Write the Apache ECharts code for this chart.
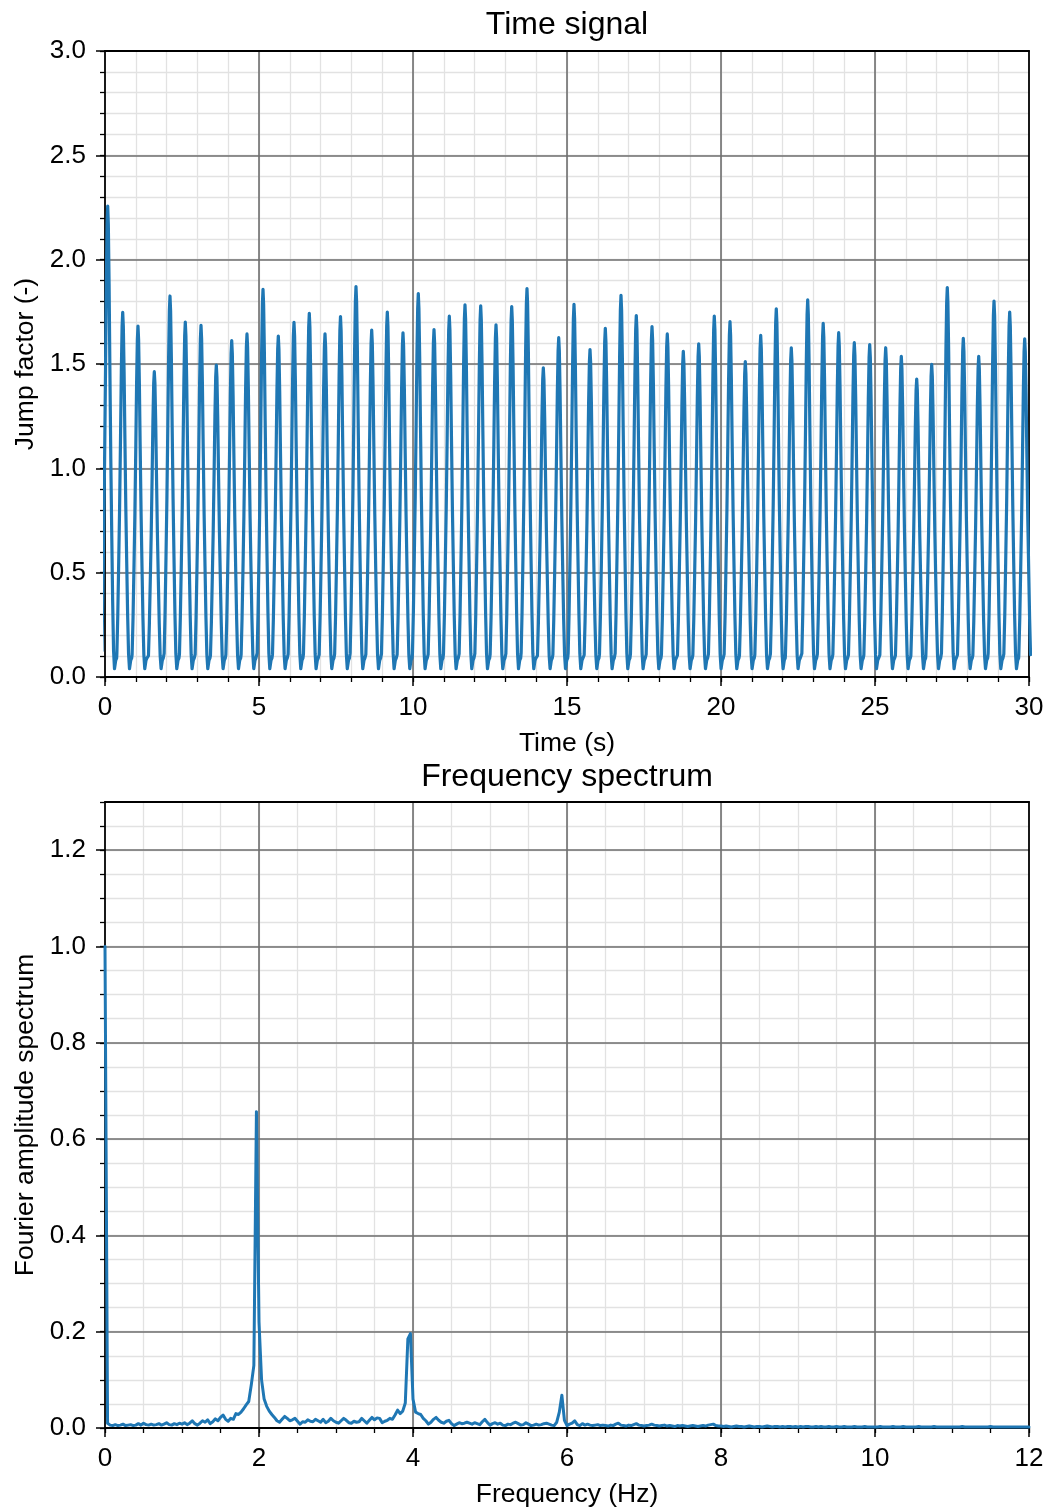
<!DOCTYPE html>
<html>
<head>
<meta charset="utf-8">
<script src="https://cdn.jsdelivr.net/npm/echarts@6/dist/echarts.min.js"></script>
<style>
  html, body { margin: 0; padding: 0; background: #fff; }
  #chart { width: 1048px; height: 1511px; }
</style>
</head>
<body>
<div id="chart"></div>
<script>
// ---- Time signal: one jump per ~0.5 s ----
const peakTimes = [
  0.088, 0.575, 1.071, 1.601, 2.110, 2.607, 3.117, 3.614, 4.114, 4.610,
  5.130, 5.627, 6.136, 6.633, 7.143, 7.646, 8.149, 8.659, 9.166, 9.675,
  10.172, 10.682, 11.179, 11.688, 12.198, 12.695, 13.205, 13.701, 14.231, 14.731,
  15.227, 15.747, 16.244, 16.753, 17.250, 17.760, 18.256, 18.776, 19.276, 19.782,
  20.292, 20.789, 21.289, 21.795, 22.282, 22.815, 23.318, 23.821, 24.328, 24.828,
  25.347, 25.854, 26.354, 26.841, 27.347, 27.867, 28.367, 28.864, 29.373, 29.860
];
const peakValues = [
  2.257, 1.748, 1.682, 1.463, 1.826, 1.701, 1.685, 1.495, 1.612, 1.644,
  1.858, 1.634, 1.700, 1.743, 1.645, 1.727, 1.871, 1.663, 1.749, 1.649,
  1.837, 1.665, 1.729, 1.784, 1.779, 1.688, 1.775, 1.861, 1.482, 1.626,
  1.786, 1.569, 1.671, 1.829, 1.732, 1.679, 1.644, 1.561, 1.597, 1.730,
  1.703, 1.511, 1.637, 1.764, 1.577, 1.807, 1.695, 1.650, 1.602, 1.593,
  1.578, 1.537, 1.428, 1.498, 1.866, 1.623, 1.537, 1.802, 1.749, 1.621
];
// shape of a single jump around its peak (s, fraction of height above base)
const pulseOffsets = [-0.19, -0.16, -0.13, -0.10, -0.07, -0.045, -0.02, 0, 0.02, 0.045, 0.07, 0.10, 0.13, 0.16, 0.19];
const pulseShape   = [0.03, 0.14, 0.29, 0.45, 0.65, 0.83, 0.96, 1, 0.96, 0.83, 0.65, 0.45, 0.29, 0.14, 0.03];
const pulseBase = 0.06;
// contact phase between two jumps (s after a peak, value)
const troughOffsets = [0.22, 0.26, 0.29];
const troughValues  = [0.04, 0.08, 0.09];

// ---- Fourier amplitude spectrum, df = 1/30 Hz ----
const spectrumStep = 1 / 30;
const spectrumAmp = [
  1.000,0.010,0.006,0.005,0.007,0.005,0.006,0.008,0.005,0.006, 0.007,0.005,0.006,0.009,0.006,0.010,0.007,0.006,0.008,0.006, 0.007,0.009,0.006,0.008,0.011,0.007,0.006,0.009,0.007,0.010,
  0.008,0.011,0.007,0.010,0.015,0.009,0.006,0.010,0.015,0.012, 0.017,0.009,0.013,0.019,0.015,0.022,0.027,0.018,0.014,0.020, 0.018,0.030,0.028,0.033,0.040,0.048,0.055,0.090,0.130,0.657,
  0.220,0.100,0.060,0.045,0.035,0.028,0.022,0.015,0.012,0.018, 0.024,0.020,0.015,0.017,0.020,0.014,0.008,0.013,0.012,0.017, 0.014,0.013,0.018,0.015,0.012,0.018,0.011,0.014,0.020,0.015,
  0.012,0.010,0.015,0.020,0.016,0.011,0.010,0.014,0.012,0.013, 0.020,0.015,0.010,0.016,0.022,0.017,0.021,0.020,0.011,0.014, 0.016,0.020,0.018,0.027,0.037,0.030,0.035,0.052,0.185,0.196,
  0.060,0.033,0.030,0.028,0.020,0.015,0.008,0.012,0.018,0.022, 0.016,0.012,0.010,0.014,0.016,0.009,0.005,0.008,0.011,0.009, 0.010,0.012,0.010,0.008,0.011,0.009,0.007,0.013,0.018,0.011,
  0.006,0.009,0.011,0.008,0.010,0.006,0.005,0.008,0.007,0.010, 0.012,0.009,0.006,0.007,0.011,0.008,0.005,0.006,0.008,0.006, 0.007,0.009,0.010,0.008,0.006,0.005,0.012,0.033,0.068,0.016,
  0.005,0.008,0.010,0.015,0.007,0.005,0.009,0.006,0.008,0.006, 0.005,0.006,0.007,0.005,0.006,0.005,0.004,0.006,0.005,0.008, 0.010,0.006,0.005,0.004,0.006,0.005,0.007,0.009,0.006,0.005,
  0.004,0.005,0.006,0.008,0.006,0.005,0.004,0.005,0.006,0.004, 0.005,0.004,0.003,0.005,0.004,0.005,0.004,0.003,0.004,0.005, 0.004,0.003,0.004,0.005,0.004,0.006,0.007,0.008,0.005,0.004,
  0.004,0.003,0.004,0.003,0.002,0.003,0.004,0.003,0.003,0.002, 0.003,0.004,0.003,0.002,0.003,0.003,0.002,0.003,0.004,0.003, 0.002,0.003,0.003,0.002,0.003,0.002,0.003,0.003,0.002,0.003,
  0.002,0.003,0.002,0.003,0.003,0.002,0.002,0.003,0.002,0.003, 0.002,0.002,0.003,0.002,0.002,0.003,0.002,0.002,0.003,0.002, 0.002,0.002,0.003,0.002,0.002,0.002,0.003,0.002,0.002,0.002,
  0.002,0.002,0.003,0.002,0.002,0.002,0.002,0.003,0.002,0.002, 0.002,0.003,0.002,0.002,0.002,0.002,0.002,0.003,0.002,0.002, 0.002,0.002,0.002,0.003,0.002,0.002,0.002,0.002,0.002,0.002,
  0.002,0.002,0.002,0.002,0.003,0.002,0.002,0.002,0.002,0.002, 0.002,0.002,0.002,0.002,0.002,0.003,0.002,0.002,0.002,0.002, 0.002,0.002,0.002,0.002,0.002,0.002,0.002,0.002,0.002,0.002,
  0.002
];

// ---- axis ranges / steps ----
const timeAxis = { min: 0, max: 30, major: 5, minor: 1 };
const jumpAxis = { min: 0, max: 3, major: 0.5, minor: 0.1 };
const freqAxis = { min: 0, max: 12, major: 2, minor: 0.5 };
const ampAxis  = { min: 0, max: 1.3, major: 0.2, minor: 0.05 };

// build the time series from the jump list
const timeData = [];
peakTimes.forEach((tp, i) => {
  const h = peakValues[i];
  pulseOffsets.forEach((dt, j) => timeData.push([tp + dt, pulseBase + (h - pulseBase) * pulseShape[j]]));
  if (i < peakTimes.length - 1) {
    troughOffsets.forEach((dt, j) => timeData.push([tp + dt, troughValues[j]]));
  }
});
const spectrumData = spectrumAmp.map((a, k) => [k * spectrumStep, a]);

const FONT = 'Liberation Sans';
const BLUE = '#1f77b4';
const MAJOR_GRID = '#6e6e6e';
const MINOR_GRID = '#e2e2e2';
const PLOT_CENTER_X = 567;

function minorAxis(gridIndex, r, pos) {
  return {
    type: 'value', gridIndex, position: pos, min: r.min, max: r.max, interval: r.minor, z: 1,
    axisLine: { show: false },
    axisTick: { show: true, length: 5, lineStyle: { color: '#000', width: 1.3 } },
    axisLabel: { show: false },
    splitLine: { show: true, showMinLine: false, showMaxLine: false, lineStyle: { color: MINOR_GRID, width: 1.3 } }
  };
}
function majorAxis(gridIndex, r, pos, name, fmt, isY) {
  const offGrid = Math.abs(Math.round(r.max / r.major) * r.major - r.max) > 1e-9;
  return {
    type: 'value', gridIndex, position: pos, min: r.min, max: r.max, interval: r.major, z: 2,
    name, nameLocation: 'middle', nameGap: isY ? 66 : 53,
    nameTextStyle: { fontFamily: FONT, fontSize: 26.5, color: '#000' },
    axisLine: { show: true, lineStyle: { color: '#000', width: 1.8 } },
    axisTick: { show: true, length: 9, lineStyle: { color: '#000', width: 1.5 } },
    axisLabel: { show: true, margin: isY ? 19 : 18, fontFamily: FONT, fontSize: 26, color: '#000',
                 formatter: fmt, showMaxLabel: !offGrid },
    splitLine: { show: true, showMinLine: false, showMaxLine: false, lineStyle: { color: MAJOR_GRID, width: 1.6 } }
  };
}
function spineAxis(gridIndex, r, pos) {
  return {
    type: 'value', gridIndex, position: pos, min: r.min, max: r.max, z: 3,
    axisLine: { show: true, onZero: false, lineStyle: { color: '#000', width: 1.8 } },
    axisTick: { show: false }, axisLabel: { show: false }, splitLine: { show: false }
  };
}

const chart = echarts.init(document.getElementById('chart'), null, { renderer: 'canvas' });
chart.setOption({
  backgroundColor: '#fff',
  animation: false,
  graphic: [
    { type: 'text', x: PLOT_CENTER_X, y: 25,
      style: { text: 'Time signal', fontFamily: FONT, fontSize: 32, fill: '#000', align: 'center', verticalAlign: 'middle' } },
    { type: 'text', x: PLOT_CENTER_X, y: 777,
      style: { text: 'Frequency spectrum', fontFamily: FONT, fontSize: 32, fill: '#000', align: 'center', verticalAlign: 'middle' } }
  ],
  grid: [
    { left: 105, right: 19, top: 51, height: 626, containLabel: false },
    { left: 105, right: 19, top: 802, height: 626, containLabel: false }
  ],
  xAxis: [
    minorAxis(0, timeAxis, 'bottom'),
    majorAxis(0, timeAxis, 'bottom', 'Time (s)', v => String(v), false),
    spineAxis(0, timeAxis, 'top'),
    minorAxis(1, freqAxis, 'bottom'),
    majorAxis(1, freqAxis, 'bottom', 'Frequency (Hz)', v => String(v), false),
    spineAxis(1, freqAxis, 'top')
  ],
  yAxis: [
    minorAxis(0, jumpAxis, 'left'),
    majorAxis(0, jumpAxis, 'left', 'Jump factor (-)', v => v.toFixed(1), true),
    spineAxis(0, jumpAxis, 'right'),
    minorAxis(1, ampAxis, 'left'),
    majorAxis(1, ampAxis, 'left', 'Fourier amplitude spectrum', v => v.toFixed(1), true),
    spineAxis(1, ampAxis, 'right')
  ],
  series: [
    { type: 'line', xAxisIndex: 1, yAxisIndex: 1, data: timeData, showSymbol: false, z: 5,
      lineStyle: { color: BLUE, width: 3.2, join: 'round', cap: 'round' }, clip: true },
    { type: 'line', xAxisIndex: 4, yAxisIndex: 4, data: spectrumData, showSymbol: false, z: 5,
      lineStyle: { color: BLUE, width: 3, join: 'round', cap: 'round' }, clip: true }
  ]
});
</script>
</body>
</html>
